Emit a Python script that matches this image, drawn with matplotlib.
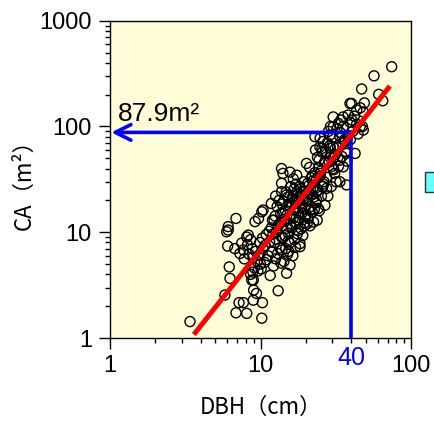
import matplotlib.pyplot as plt
from matplotlib.patches import Rectangle

# scatter points (DBH cm, crown area m2)
dbh = [3.4, 5.8, 6.05, 5.96, 6.1, 6.87, 6.1, 6.2, 6.27, 6.87, 7.2, 7.7, 8.1, 10.2, 8.96,
       10.3, 9.0, 9.4, 8.96, 8.75, 8.9, 13.1, 6.75, 7.3, 7.7, 8.1, 8.3, 9.2, 9.7, 10.2,
       10.4, 11.8, 13.8, 14.1, 13.8, 13.8, 15.7, 17.4, 20.2, 74.4, 56.8, 47.0, 64.9, 61.0, 39.3,
       49.0,
       # right of line / misc
       27.5, 37.3, 33.7, 42.5, 24.2, 23.6, 14.9, 15.7, 18.3, 21.3,
       # upper cluster
       23.0, 24.9, 28.9, 30.4, 32.9, 35.4, 38.2, 40.3, 43.6, 48.2, 45.9, 48.2, 30.4, 28.9,
       33.7, 35.4, 37.3, 30.4, 39.3, 33.7, 36.4, 25.6, 26.9, 30.4,
       # 8.5-10
       8.6, 9.1, 9.5, 9.8, 8.8, 10.0, 9.3, 9.9, 9.6, 8.9, 7.8, 8.4, 8.2, 7.5, 8.6,
       # 10-12
       10.1, 10.6, 11.2, 10.4, 11.5, 10.9, 11.8, 12.0, 11.0, 11.9, 10.7, 10.3, 11.4, 11.6,
       # 12-14
       12.2, 12.6, 13.0, 13.4, 12.4, 13.8, 12.8, 13.1, 12.3, 13.6, 12.9, 13.3, 13.9, 12.7,
       13.5, 12.5, 13.7, 12.1, 13.9, 12.6,
       # 14-16
       14.3, 15.1, 14.7, 15.6, 14.1, 15.3, 14.9, 15.8, 14.4, 15.0, 14.6, 15.5, 14.2, 15.2,
       14.8, 15.9, 15.4, 14.5, 16.0, 14.0, 15.7, 14.9, 15.3, 14.6,
       # 16-18
       16.4, 17.1, 16.8, 17.6, 16.2, 17.3, 16.6, 17.9, 16.9, 17.4, 16.3, 17.7, 16.7, 17.2,
       16.5, 17.8, 16.1, 17.0, 17.5, 16.9, 17.9, 16.4,
       # 18-20
       18.3, 19.1, 18.6, 19.5, 18.1, 18.9, 19.7, 18.4, 19.2, 18.7, 19.9, 18.2, 19.4, 19.8,
       18.8, 19.0, 18.5, 19.6, 18.0,
       # 20-23
       20.4, 21.3, 20.8, 22.1, 21.6, 20.2, 22.6, 21.0, 22.3, 20.6, 21.8, 22.9, 21.2, 22.8,
       20.5, 21.5, 22.2, 22.5, 21.9, 20.9, 22.0,
       # 23-27
       23.8, 24.6, 23.3, 25.4, 24.1, 26.2, 23.6, 25.0, 24.3, 26.6, 23.9, 25.7, 24.8, 26.0,
       26.8, 23.5, 26.4, 25.2, 24.5, 23.2, 25.9, 24.9,
       # 27-32
       28.0, 29.5, 27.5, 30.6, 28.6, 31.4, 29.1, 27.8, 30.1, 28.3, 31.8, 29.8, 27.3, 29.2,
       31.1, 30.4, 28.9,
       # 32-38
       33.0, 34.8, 32.5, 36.2, 33.8, 35.5, 34.2, 37.5, 36.8, 35.0, 37.9, 32.2,
       # 38-50
       39.5, 41.0, 43.5, 42.0, 46.0, 44.5, 40.5, 47.5]

ca = [1.43, 2.55, 7.4, 10.1, 11.3, 13.5, 10.5, 4.7, 3.66, 1.73, 2.16, 2.16, 1.71, 1.54, 2.28,
      2.16, 2.84, 2.64, 3.53, 3.53, 4.2, 2.8, 7.0, 6.3, 6.8, 9.0, 9.4, 12.6, 13.5, 15.6,
      16.2, 18.7, 40.0, 36.0, 29.0, 24.2, 37.0, 34.6, 44.7, 367, 301, 226, 175, 201, 165,
      167,
      26.0, 28.0, 30.0, 55.6, 16.8, 20.2, 4.1, 4.9, 7.3, 16.2,
      80, 77.5, 82.8, 99.4, 107, 123, 128, 165, 143, 137, 99.4, 92.5, 64, 51.5,
      48, 41.5, 55.6, 123, 110, 80, 71.8, 62, 46.5, 40,
      4.0, 4.6, 5.3, 6.1, 7.0, 5.0, 6.6, 8.0, 4.3, 5.8, 5.6, 6.2, 7.6, 7.9, 8.5,
      4.5, 5.2, 6.0, 7.0, 8.1, 9.5, 11.0, 13.0, 5.5, 6.5, 7.5, 8.8, 10.2, 3.9,
      4.8, 5.6, 6.3, 7.1, 8.0, 9.0, 10.1, 11.5, 13.0, 15.0, 17.5, 20.0, 6.8, 8.6,
      12.2, 14.2, 5.1, 9.6, 18.5, 22.0,
      5.3, 6.2, 7.0, 7.9, 8.8, 9.8, 10.9, 12.0, 13.3, 14.6, 16.1, 17.8, 19.6, 21.5,
      24.0, 27.0, 6.6, 9.3, 11.4, 15.3, 18.7, 22.6, 8.3, 12.7,
      6.0, 7.2, 8.5, 9.7, 11.0, 12.3, 13.8, 15.3, 17.0, 18.8, 20.8, 23.0, 25.5, 28.5,
      32.0, 10.4, 14.5, 19.7, 24.2, 16.2, 12.9, 21.9,
      7.8, 9.3, 10.8, 12.2, 13.7, 15.2, 16.9, 18.6, 20.4, 22.3, 24.5, 27.0, 30.0, 14.3,
      17.8, 21.5, 25.8, 11.5, 19.6,
      12.0, 11.5, 13.5, 15.5, 17.5, 19.5, 21.5, 23.5, 26.0, 29.0, 32.5, 36.5, 41.0, 16.5,
      20.5, 25.0, 30.5, 12.5, 22.5, 27.5, 34.0,
      13.0, 16.0, 19.0, 22.0, 25.0, 28.5, 32.0, 36.0, 40.5, 45.5, 51.0, 57.0, 64.0, 72.0,
      18.0, 24.0, 30.0, 38.0, 48.0, 60.0, 27.0, 34.0,
      22, 27, 33, 39, 46, 54, 62, 70, 79, 90, 30, 42, 58, 100,
      36, 50, 66,
      42, 52, 63, 75, 88, 100, 115, 47, 58, 70, 82, 95,
      75, 90, 105, 125, 150, 85, 115, 100]

# fitted power line, ends
fit_dbh = [3.61, 72.4]
fit_ca = [1.08, 241]

# read-off example
target_dbh = 40
target_ca = 87.9

fig = plt.figure(figsize=(4.34, 4.23), dpi=100)
ax = fig.add_axes([0.2535, 0.2009, 0.6935, 0.7502])
ax.set_facecolor('#fffdd8')
ax.set_xscale('log')
ax.set_yscale('log')
ax.set_xlim(1, 100)
ax.set_ylim(1, 1000)

ax.scatter(dbh, ca, s=52, facecolors='none', edgecolors='black', linewidths=1.0, zorder=2)

# blue guide lines
ax.plot([target_dbh, target_dbh], [1.0, target_ca], color='blue', lw=2.6, zorder=3)
ax.annotate('', xy=(1.02, target_ca), xytext=(target_dbh, target_ca),
            arrowprops=dict(arrowstyle='->', color='blue', lw=2.6, mutation_scale=28,
                            shrinkA=0, shrinkB=0), zorder=3)
ax.plot(fit_dbh, fit_ca, color='red', lw=3.6, solid_capstyle='butt', zorder=4)

ax.text(1.13, 101, '87.9m²', fontsize=19, family='Liberation Sans', ha='left',
        va='bottom', zorder=5)

ax.set_xticks([1, 10, 100])
ax.set_xticklabels(['1', '10', '100'])
ax.set_yticks([1, 10, 100, 1000])
ax.set_yticklabels(['1', '10', '100', '1000'])
for lab in ax.get_xticklabels() + ax.get_yticklabels():
    lab.set_family('Liberation Sans')
    lab.set_fontsize(17)
ax.tick_params(which='major', length=8, width=1, pad=4)
ax.tick_params(which='minor', length=3.5, width=1)
ax.tick_params(axis='y', which='major', pad=5)
ax.text(target_dbh, -0.025, '40', transform=ax.get_xaxis_transform(), ha='center',
        va='top', color='blue', fontsize=18, family='Liberation Sans')

ax.set_xlabel('DBH（cm）', fontsize=16, family=['Noto Sans CJK JP', 'DejaVu Sans'],
              labelpad=14)
ax.set_ylabel('CA（m²）', fontsize=16, family=['Noto Sans CJK JP', 'DejaVu Sans'],
              labelpad=3)

for sp in ax.spines.values():
    sp.set_linewidth(1)

# cut-off legend box at the right edge
fig.patches.append(Rectangle((0.979, 0.547), 0.03, 0.047, transform=fig.transFigure,
                             facecolor='#66ffff', edgecolor='#333333', lw=1))

fig.savefig('out.png', dpi=100)
